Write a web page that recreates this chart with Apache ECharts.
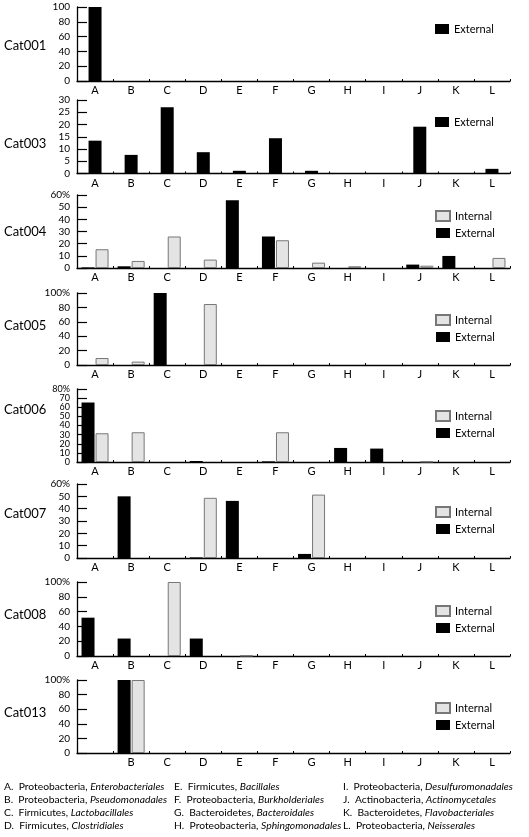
<!DOCTYPE html>
<html>
<head>
<meta charset="utf-8">
<script src="https://cdn.jsdelivr.net/npm/echarts@6/dist/echarts.min.js"></script>
<style>html,body{margin:0;padding:0;background:#fff}#c{width:529px;height:837px}</style>
</head>
<body>
<div id="c"></div>
<script>
// ---- data ----
const categories = ['A','B','C','D','E','F','G','H','I','J','K','L'];
const cat013Labels = ['','B','C','D','E','F','G','H','I','J','K','L'];
const panelNames = ['Cat001','Cat003','Cat004','Cat005','Cat006','Cat007','Cat008','Cat013'];
const yMax = [100, 30, 60, 100, 80, 60, 100, 100];
const yStep = [20, 5, 10, 20, 10, 10, 20, 20];
const yPercent = [false, false, true, true, true, true, true, true];

const cat001Ext = [100,0,0,0,0,0,0,0,0,0,0,0];
const cat003Ext = [13.4,7.6,27,8.7,1.1,14.4,1.1,0,0,19.1,0,1.9];
const cat004Ext = [0.5,1.4,0,0,55.6,25.9,0,0,0,2.8,9.9,0];
const cat004Int = [15.4,5.8,25.9,6.9,0,22.8,4.4,1.4,0,1.9,0,8.3];
const cat005Ext = [0,0,100,0,0,0,0,0,0,0,0,0];
const cat005Int = [9.7,4.7,0,84.7,0,0,0,0,0,0,0,0];
const cat006Ext = [65.2,0,0,1.1,0,0.7,0,15.4,14.7,0,0,0];
const cat006Int = [31.5,32.6,0,0,0,32.6,0,0,0,0.5,0,0];
const cat007Ext = [0,50,0,0.5,46.3,0,3.3,0,0,0,0,0];
const cat007Int = [0,0,0,48.8,0,0,51.4,0,0,0,0,0];
const cat008Ext = [51.8,23.6,0,23.6,0,0,0,0,0,0,0,0];
const cat008Int = [0,0,100,0,0.5,0,0,0,0,0,0,0];
const cat013Ext = [0,100,0,0,0,0,0,0,0,0,0,0];
const cat013Int = [0,100,0,0,0,0,0,0,0,0,0,0];

const extData = [cat001Ext, cat003Ext, cat004Ext, cat005Ext, cat006Ext, cat007Ext, cat008Ext, cat013Ext];
const intData = [null, null, cat004Int, cat005Int, cat006Int, cat007Int, cat008Int, cat013Int];

const footnotes = [
  ['A.  Proteobacteria, ', 'Enterobacteriales'],
  ['B.  Proteobacteria, ', 'Pseudomonadales'],
  ['C.  Firmicutes, ', 'Lactobacillales'],
  ['D.  Firmicutes, ', 'Clostridiales'],
  ['E.  Firmicutes, ', 'Bacillales'],
  ['F.  Proteobacteria, ', 'Burkholderiales'],
  ['G.  Bacteroidetes, ', 'Bacteroidales'],
  ['H.  Proteobacteria, ', 'Sphingomonadales'],
  ['I.  Proteobacteria, ', 'Desulfuromonadales'],
  ['J.  Actinobacteria, ', 'Actinomycetales'],
  ['K.  Bacteroidetes, ', 'Flavobacteriales'],
  ['L.  Proteobacteria, ', 'Neisserales']
];

// ---- layout ----
const FONT = 'Lato';
const gridTop = [7, 100, 195, 293, 389, 484, 582, 680];
const gridH = [74, 73.5, 73, 72, 73, 74, 74, 73];
const labelY = [47, 145, 233, 327, 411, 515, 616, 714];
const legendTop = [18, 111, 205, 309, 405, 501, 600, 697];

const chart = echarts.init(document.getElementById('c'), null, {renderer: 'canvas'});

const grids = [], xAxes = [], yAxes = [], series = [], legends = [], graphics = [];
for (let i = 0; i < 8; i++) {
  grids.push({left: 77, right: 19, top: gridTop[i], height: gridH[i]});
  const labels = i === 7 ? cat013Labels : categories;
  xAxes.push({
    type: 'category', gridIndex: i, data: labels,
    axisLine: {show: true, lineStyle: {color: '#000', width: 1.4}},
    axisTick: {show: true, inside: true, length: 2, lineStyle: {color: '#000'}},
    axisLabel: {color: '#000', fontSize: 11, fontFamily: FONT, margin: 4}
  });
  const mx = yMax[i], pc = yPercent[i];
  const dense = (mx / yStep[i]) > 6;
  yAxes.push({
    type: 'value', gridIndex: i, min: 0, max: mx, interval: yStep[i],
    axisLine: {show: true, lineStyle: {color: '#000', width: 1.3}},
    axisTick: {show: true, inside: true, length: 10, lineStyle: {color: '#000', width: 1.2}},
    splitLine: {show: false},
    axisLabel: {color: '#000', fontSize: dense ? 9 : 10, lineHeight: dense ? 8 : 12,
      fontFamily: FONT, margin: 7,
      showMaxLabel: true, showMinLabel: true, hideOverlap: false,
      formatter: v => (pc && v === mx) ? v + '%' : String(v)}
  });
  series.push({
    name: 'External', type: 'bar', xAxisIndex: i, yAxisIndex: i,
    data: extData[i], barWidth: 13, barGap: '8%',
    itemStyle: {color: '#000'}, silent: true, animation: false
  });
  if (intData[i]) {
    series.push({
      name: 'Internal', type: 'bar', xAxisIndex: i, yAxisIndex: i,
      data: intData[i].map(v => v === 0 ? null : v), barWidth: 13, barGap: '8%',
      itemStyle: {color: '#e4e4e4', borderColor: '#777', borderWidth: 1}, silent: true, animation: false
    });
  }
  legends.push({
    orient: 'vertical', left: 430, top: legendTop[i],
    data: intData[i] ? ['Internal', 'External'] : ['External'],
    itemWidth: 14, itemHeight: 10, itemGap: 5, icon: 'rect',
    textStyle: {color: '#000', fontSize: 11, fontFamily: FONT, lineHeight: 12},
    selectedMode: false
  });
  graphics.push({
    type: 'text', left: 4, top: labelY[i] - 8,
    style: {text: panelNames[i], fill: '#000', font: '13px ' + FONT}
  });
}

const colX = [4, 174, 343];
const rowY = [789, 802, 815, 828];
footnotes.forEach((f, k) => {
  const col = Math.floor(k / 4), row = k % 4;
  graphics.push({
    type: 'text', x: colX[col], y: rowY[row] - 7,
    style: {
      text: '{n|' + f[0] + '}{i|' + f[1] + '}',
      rich: {
        n: {fontSize: 10.3, fontFamily: FONT, fill: '#000'},
        i: {fontSize: 10.3, fontFamily: FONT, fontStyle: 'italic', fill: '#000'}
      }
    }
  });
});

chart.setOption({
  animation: false,
  grid: grids, xAxis: xAxes, yAxis: yAxes, series: series,
  legend: legends, graphic: graphics
});
</script>
</body>
</html>
